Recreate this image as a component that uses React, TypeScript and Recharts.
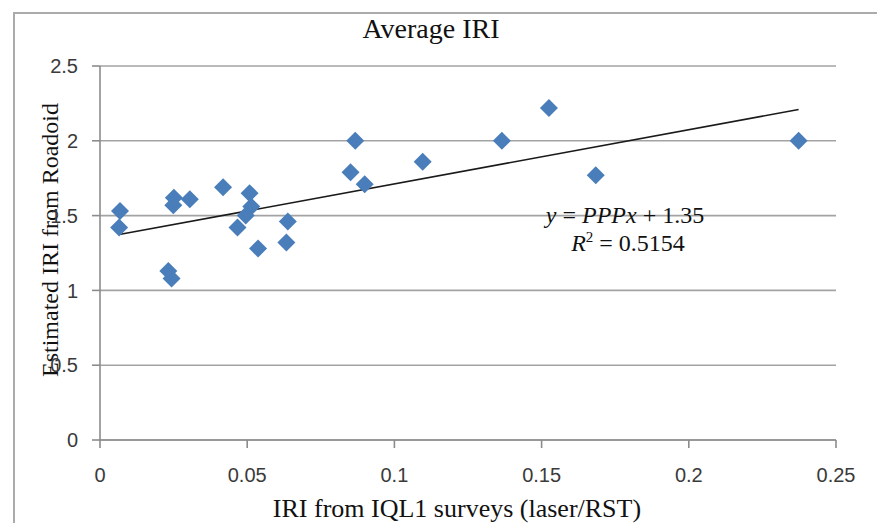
import React from "react";
import {
  ScatterChart,
  Scatter,
  XAxis,
  YAxis,
  CartesianGrid,
  ReferenceLine,
} from "recharts";

const xValues = [
  0.0068, 0.0065, 0.0251, 0.0249, 0.0305, 0.0232, 0.0243, 0.0418, 0.0508,
  0.0514, 0.0495, 0.0467, 0.0537, 0.0638, 0.0633, 0.0851, 0.0867, 0.0899,
  0.1096, 0.1365, 0.1525, 0.1684, 0.2373,
];
const yValues = [
  1.53, 1.42, 1.62, 1.57, 1.61, 1.13, 1.08, 1.69, 1.65, 1.56, 1.5, 1.42,
  1.28, 1.46, 1.32, 1.79, 2.0, 1.71, 1.86, 2.0, 2.22, 1.77, 2.0,
];
const xTicks = [0, 0.05, 0.1, 0.15, 0.2, 0.25];
const yTicks = [0, 0.5, 1, 1.5, 2, 2.5];
const trendSlope = 3.62;
const trendIntercept = 1.35;

const data = xValues.map((x, i) => ({ x, y: yValues[i] }));
const xMin = Math.min(...xValues);
const xMax = Math.max(...xValues);

const W = 877;
const H = 523;
const SERIF = '"Liberation Serif", "Times New Roman", serif';
const SANS = '"Liberation Sans", Arial, sans-serif';

const Diamond = (props: any) => {
  const { cx, cy } = props;
  const r = 9;
  return (
    <path
      d={`M${cx},${cy - r}L${cx + r},${cy}L${cx},${cy + r}L${cx - r},${cy}Z`}
      fill="#4A7EBB"
    />
  );
};

export default function App() {
  return (
    <div
      style={{
        position: "absolute",
        left: 0,
        top: 0,
        width: W,
        height: H,
        background: "#fff",
        overflow: "hidden",
      }}
    >
      <div
        style={{
          position: "absolute",
          left: 13,
          top: 12,
          width: W,
          height: H,
          borderTop: "2px solid #ababab",
          borderLeft: "2px solid #ababab",
        }}
      />
      <div style={{ position: "absolute", left: 0, top: 0 }}>
        <ScatterChart
          width={W}
          height={H}
          margin={{ top: 66, right: 41, bottom: 0, left: 40 }}
        >
          <CartesianGrid
            vertical={false}
            stroke="#a3a3a3"
            strokeWidth={1.6}
          />
          <XAxis
            type="number"
            dataKey="x"
            domain={[0, 0.25]}
            ticks={xTicks}
            height={83}
            stroke="#8c8c8c"
            strokeWidth={1.6}
            tickSize={8}
            tickMargin={20}
            tick={{ fill: "#3a3a3a", fontSize: 20, fontFamily: SANS }}
            tickLine={{ stroke: "#8c8c8c", strokeWidth: 1.6 }}
            label={{
              content: (p: any) => {
                const vb = p.viewBox;
                return (
                  <text
                    x={vb.x + 357}
                    y={517}
                    textAnchor="middle"
                    fontFamily={SERIF}
                    fontSize={26}
                    fill="#111"
                  >
                    IRI from IQL1 surveys (laser/RST)
                  </text>
                );
              },
            }}
          />
          <YAxis
            type="number"
            dataKey="y"
            domain={[0, 2.5]}
            ticks={yTicks}
            width={60}
            stroke="#8c8c8c"
            strokeWidth={1.6}
            tickSize={8}
            tickMargin={14}
            tick={{ fill: "#3a3a3a", fontSize: 20, fontFamily: SANS }}
            tickLine={{ stroke: "#8c8c8c", strokeWidth: 1.6 }}
            label={{
              content: () => (
                <text
                  x={0}
                  y={0}
                  transform="translate(58,240) rotate(-90)"
                  textAnchor="middle"
                  fontFamily={SERIF}
                  fontSize={24}
                  fill="#111"
                >
                  Estimated IRI from Roadoid
                </text>
              ),
            }}
          />
          <ReferenceLine
            segment={[
              { x: xMin, y: trendIntercept + trendSlope * xMin },
              { x: xMax, y: trendIntercept + trendSlope * xMax },
            ]}
            stroke="#1a1a1a"
            strokeWidth={1.6}
          />
          <Scatter
            data={data}
            shape={Diamond}
            isAnimationActive={false}
          />
        </ScatterChart>
      </div>
      <svg
        width={W}
        height={H}
        style={{ position: "absolute", left: 0, top: 0, pointerEvents: "none" }}
      >
        <text
          x={431}
          y={38}
          textAnchor="middle"
          fontFamily={SERIF}
          fontSize={28}
          fill="#111"
        >
          Average IRI
        </text>
        <text
          x={625}
          y={223}
          textAnchor="middle"
          fontFamily={SERIF}
          fontSize={24}
          fill="#111"
        >
          <tspan fontStyle="italic">y</tspan>
          <tspan> = </tspan>
          <tspan fontStyle="italic">PPPx</tspan>
          <tspan> + 1.35</tspan>
        </text>
        <text
          x={628}
          y={251}
          textAnchor="middle"
          fontFamily={SERIF}
          fontSize={24}
          fill="#111"
        >
          <tspan fontStyle="italic">R</tspan>
          <tspan fontSize={15} dy={-9}>
            2
          </tspan>
          <tspan dy={9}> = 0.5154</tspan>
        </text>
      </svg>
    </div>
  );
}
